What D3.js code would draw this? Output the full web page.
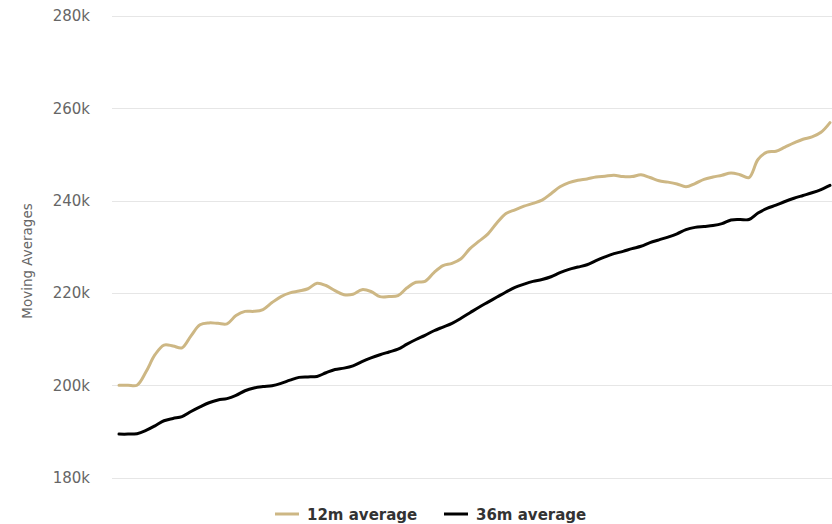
<!DOCTYPE html>
<html>
<head>
<meta charset="utf-8">
<script src="https://cdn.jsdelivr.net/npm/d3@7"></script>
<style>
  html, body { margin: 0; padding: 0; background: #ffffff; }
  svg { display: block; font-family: "DejaVu Sans", Verdana, sans-serif; }
</style>
</head>
<body>
<svg id="chart" width="832" height="524"></svg>
<script>
// Month index along the horizontal axis
const months = d3.range(80);

// 12-month moving average (thousands)
const avg12 = [
  200.0, 200.0, 200.0, 202.9, 206.6, 208.7, 208.5, 208.1, 210.7, 213.1,
  213.5, 213.4, 213.3, 215.1, 216.0, 216.0, 216.4, 217.9, 219.2, 220.0,
  220.4, 220.9, 222.1, 221.6, 220.5, 219.6, 219.7, 220.7, 220.3, 219.2,
  219.2, 219.4, 221.1, 222.3, 222.5, 224.4, 225.9, 226.4, 227.4, 229.6,
  231.2, 232.8, 235.2, 237.2, 238.0, 238.8, 239.4, 240.1, 241.5, 243.0,
  243.9, 244.4, 244.7, 245.1, 245.3, 245.5, 245.2, 245.2, 245.6, 245.0,
  244.3, 244.0, 243.6, 243.0, 243.7, 244.6, 245.1, 245.5, 246.0, 245.6,
  245.0, 248.9, 250.5, 250.7, 251.6, 252.5, 253.3, 253.8, 254.8, 256.9
];

// 36-month moving average (thousands)
const avg36 = [
  189.4, 189.4, 189.5, 190.2, 191.2, 192.3, 192.8, 193.2, 194.3, 195.3,
  196.2, 196.8, 197.1, 197.8, 198.8, 199.4, 199.7, 199.9, 200.4, 201.1,
  201.7, 201.8, 201.9, 202.7, 203.4, 203.7, 204.2, 205.1, 205.9, 206.6,
  207.2, 207.8, 208.9, 209.9, 210.8, 211.8, 212.6, 213.4, 214.5, 215.7,
  216.9, 218.0, 219.1, 220.2, 221.2, 221.9, 222.5, 222.9, 223.5, 224.4,
  225.1, 225.6, 226.1, 227.0, 227.8, 228.5, 229.0, 229.6, 230.1, 230.9,
  231.5, 232.1, 232.8, 233.7, 234.2, 234.4, 234.6, 235.0, 235.8, 235.9,
  235.9, 237.3, 238.3, 239.0, 239.8, 240.5, 241.1, 241.7, 242.4, 243.3
];

// Y axis ticks (thousands)
const yTicks = [180, 200, 220, 240, 260, 280];

const seriesNames = ["12m average", "36m average"];
const seriesColors = ["#cdb784", "#000000"];

const svg = d3.select("#chart");

const x = d3.scaleLinear().domain([0, months.length - 1]).range([119, 830]);
const y = d3.scaleLinear().domain([180, 280]).range([477.5, 16]);

// Horizontal gridlines
svg.append("g")
  .selectAll("line")
  .data(yTicks)
  .join("line")
  .attr("x1", 112)
  .attr("x2", 832)
  .attr("y1", d => Math.round(y(d)) + 0.5)
  .attr("y2", d => Math.round(y(d)) + 0.5)
  .attr("stroke", "#e6e6e6")
  .attr("stroke-width", 1);

// Y axis labels
const yAxis = d3.axisLeft(y)
  .tickValues(yTicks)
  .tickFormat(d => d + "k")
  .tickSize(0)
  .tickPadding(0);

const yAxisG = svg.append("g")
  .attr("transform", "translate(90,0)")
  .call(yAxis);
yAxisG.select(".domain").remove();
yAxisG.selectAll("text")
  .attr("font-family", "DejaVu Sans, Verdana, sans-serif")
  .attr("font-size", 15)
  .attr("fill", "#666666");

// Axis title
svg.append("text")
  .attr("transform", "translate(32,261) rotate(-90)")
  .attr("text-anchor", "middle")
  .attr("font-size", 13.5)
  .attr("fill", "#666666")
  .text("Moving Averages");

// Lines
const line = d3.line()
  .x((d, i) => x(months[i]))
  .y(d => y(d))
  .curve(d3.curveCatmullRom.alpha(0.5));

const series = [avg12, avg36];
svg.append("g")
  .selectAll("path")
  .data(series)
  .join("path")
  .attr("d", d => line(d))
  .attr("fill", "none")
  .attr("stroke", (d, i) => seriesColors[i])
  .attr("stroke-width", 3)
  .attr("stroke-linejoin", "round")
  .attr("stroke-linecap", "round");

// Legend
const legendItems = [
  { name: seriesNames[0], color: seriesColors[0], x: 275 },
  { name: seriesNames[1], color: seriesColors[1], x: 444 }
];
const legend = svg.append("g").attr("transform", "translate(0,514)");
const items = legend.selectAll("g")
  .data(legendItems)
  .join("g")
  .attr("transform", d => `translate(${d.x},0)`);
items.append("line")
  .attr("x1", 0).attr("x2", 24)
  .attr("y1", 0).attr("y2", 0)
  .attr("stroke", d => d.color)
  .attr("stroke-width", 3);
items.append("text")
  .attr("x", 32)
  .attr("y", 6)
  .attr("font-size", 15)
  .attr("font-weight", "bold")
  .attr("fill", "#333333")
  .text(d => d.name);
</script>
</body>
</html>
